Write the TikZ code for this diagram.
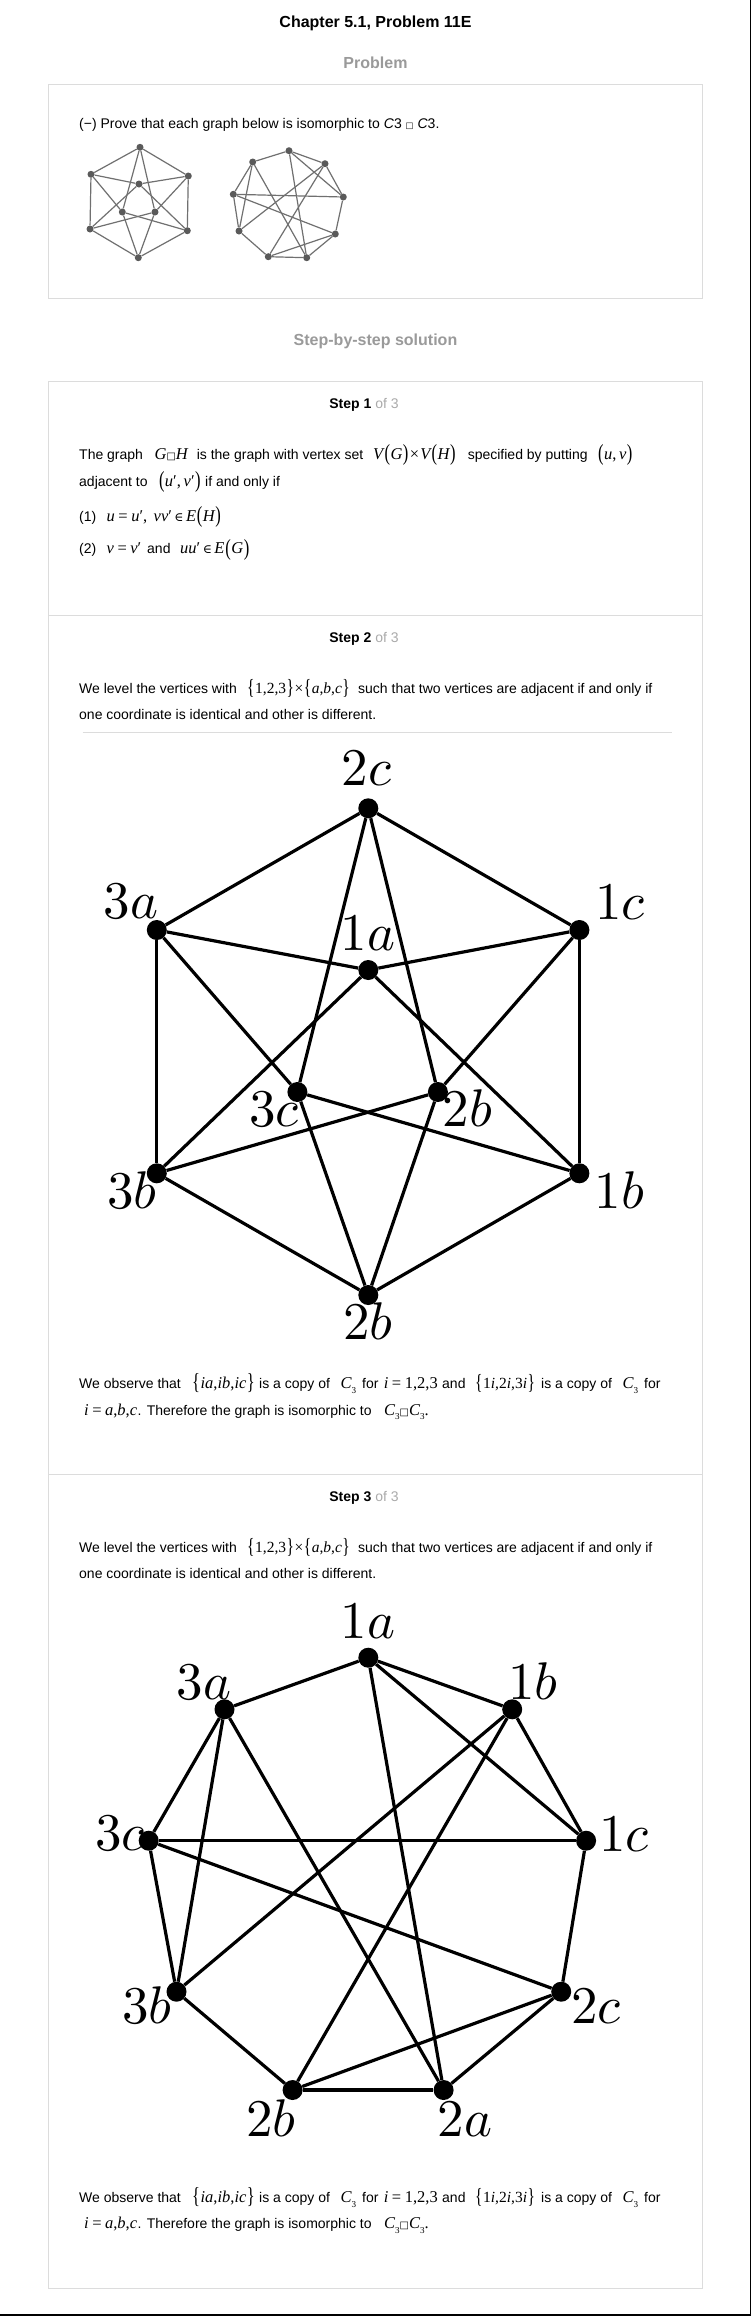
\documentclass[tikz,border=0pt]{standalone}
\usepackage{fontspec}
\setmainfont{Liberation Sans}
\newfontfamily\tms{Liberation Serif}
\newfontfamily\dvs{DejaVu Sans}
\newfontfamily\dvserif{DejaVu Serif}
\usepackage{graphicx}
\definecolor{boxgray}{HTML}{DCDCDC}
\definecolor{headgray}{HTML}{9A9A9A}
\definecolor{ofgray}{HTML}{AAAAAA}
\definecolor{sgnode}{HTML}{5A5A5A}
\definecolor{sgedge}{HTML}{707070}
\newcommand\mi[1]{{\tms\itshape #1}}
\newcommand\mr[1]{{\tms #1}}
\newcommand\eq{\hspace{3.5pt}\mr{=}\hspace{3.5pt}}
\newcommand\inop{\hspace{2.5pt}{\dvserif\scalebox{0.75}{∈}}\hspace{2.5pt}}
\newcommand\LP{\kern0.8pt\raisebox{-0.1em}{\scalebox{1}[1.4]{\tms(}}\kern0.5pt}
\newcommand\RP{\kern0.5pt\raisebox{-0.1em}{\scalebox{1}[1.4]{\tms)}}\kern0.5pt}
\newcommand\LB{\raisebox{-0.1em}{\scalebox{1}[1.4]{\tms\{}}\kern0.5pt}
\newcommand\RB{\kern0.5pt\raisebox{-0.1em}{\scalebox{1}[1.4]{\tms\}}}}
\newcommand\sq{{\dvs\scalebox{0.6}{□}}}
\newcommand\Cthree{\mi{C}\raisebox{-0.3em}{\scalebox{0.55}{\mr{3}}}}
\newcommand\gl[1]{\scalebox{5.3}{$#1$}}
\tikzset{
  txt/.style={anchor=base west, inner sep=0pt, font=\fontsize{14}{17}\selectfont},
  mth/.style={anchor=base west, inner sep=0pt, font=\fontsize{16.5}{18}\selectfont},
  mthsm/.style={anchor=base west, inner sep=0pt, font=\fontsize{15.5}{17}\selectfont},
  head/.style={anchor=base, inner sep=0pt, font=\bfseries\fontsize{16}{19}\selectfont},
  stephead/.style={anchor=base, inner sep=0pt, font=\fontsize{14}{17}\selectfont},
  boxframe/.style={draw=boxgray, line width=1pt},
  vtx/.style={circle, fill=black, inner sep=0pt, minimum size=20pt},
  gedge/.style={line width=3.2pt},
  lbl/.style={anchor=base, inner sep=0pt, font=\fontsize{10}{12}\selectfont},
  svtx/.style={circle, fill=sgnode, inner sep=0pt, minimum size=7pt},
  sedge/.style={line width=1.2pt, draw=sgedge},
}
\begin{document}
\begin{tikzpicture}[x=1pt,y=-1pt]
\useasboundingbox (0,0) rectangle (752,2316);
\fill[white] (0,0) rectangle (752,2316);
% page border lines
\draw[line width=1.6pt] (750.6,0) -- (750.6,2315.2) -- (0,2315.2);

% headings
\node[head] (title) at (375.5,27.5) {Chapter 5.1, Problem 11E};
\node[head, text=headgray] (probhead) at (375.5,68.7) {Problem};
\node[head, text=headgray] (solhead) at (375.5,345.7) {Step-by-step solution};

% problem box
\draw[boxframe] (48.4,84.3) rectangle (702.4,298.3);
\node[txt] (prove) at (79,128.5) {(−) Prove that each graph below is isomorphic to \textit{C}3 \sq\ \textit{C}3.};

% small graph left
\node[svtx] (sa2c) at (140,147.3) {};
\node[svtx] (sa3a) at (91,174.3) {};
\node[svtx] (sa1c) at (188.3,176) {};
\node[svtx] (sa1a) at (139,184) {};
\node[svtx] (sa3c) at (122.3,212) {};
\node[svtx] (sa2bi) at (155,212) {};
\node[svtx] (sa3b) at (90,229) {};
\node[svtx] (sa1b) at (187.3,230.7) {};
\node[svtx] (sa2bb) at (138.3,257.7) {};
\foreach \u/\v in {2c/3a,2c/1c,2c/3c,2c/2bi,3a/1a,1c/1a,3a/3b,1c/1b,3a/3c,1c/2bi,1a/3b,1a/1b,3c/1b,3c/2bb,2bi/3b,2bi/2bb,3b/2bb,1b/2bb}
  \draw[sedge] (sa\u) -- (sa\v);

% small graph right
\node[svtx] (sb1a) at (289,150.7) {};
\node[svtx] (sb3a) at (252.7,162) {};
\node[svtx] (sb1b) at (325,163.7) {};
\node[svtx] (sb3c) at (233.3,194.3) {};
\node[svtx] (sb1c) at (343.3,197) {};
\node[svtx] (sb3b) at (239,231) {};
\node[svtx] (sb2c) at (335.3,234) {};
\node[svtx] (sb2b) at (268.3,256.7) {};
\node[svtx] (sb2a) at (306.7,257.7) {};
\foreach \u/\v in {1a/3a,1a/1b,1a/1c,1a/2a,3a/3c,3a/3b,3a/2a,1b/1c,1b/3b,1b/2b,3c/1c,3c/3b,3c/2c,1c/2c,2c/2b,2c/2a,2b/3b,2b/2a}
  \draw[sedge] (sb\u) -- (sb\v);

% solution box
\draw[boxframe] (48.4,381) rectangle (702.4,2288.3);
\draw[boxframe] (48.4,615) -- (702.4,615);
\draw[boxframe] (48.4,1474) -- (702.4,1474);

% step 1
\node[stephead] (st1) at (364,408.3) {\textbf{Step 1} \textcolor{ofgray}{of 3}};
\node[txt] (s1a) at (79,459) {The graph};
\node[mth] (s1b) at (154.4,459) {\mi{G}\sq\mi{H}};
\node[txt] (s1c) at (196.6,459) {is the graph with vertex set};
\node[mth] (s1d) at (373,459) {\mi{V}\kern0.5pt\LP\mi{G}\RP\kern1pt\mr{×}\kern1pt\mi{V}\kern0.5pt\LP\mi{H}\RP};
\node[txt] (s1e) at (467.6,459) {specified by putting};
\node[mth] (s1f) at (597,459) {\LP\mi{u}\mr{,}\,\mi{v}\RP};
\node[txt] (s1g) at (79,486) {adjacent to};
\node[mth] (s1h) at (158,486) {\LP\mi{u}\mr{′,}\,\mi{v}\mr{′}\RP};
\node[txt] (s1i) at (205,486) {if and only if};
\node[txt] (s1j) at (79,521) {(1)};
\node[mth] (s1k) at (106.5,521) {\mi{u}\eq\mi{u}\mr{′,}};
\node[mth] (s1l) at (153.5,521) {\mi{vv}\mr{′}\inop\mi{E}\LP\mi{H}\RP};
\node[txt] (s1m) at (79,553.5) {(2)};
\node[mth] (s1n) at (106.5,553.5) {\mi{v}\eq\mi{v}\mr{′}};
\node[txt] (s1o) at (147,553.5) {and};
\node[mth] (s1p) at (180,553.5) {\mi{uu}\mr{′}\inop\mi{E}\LP\mi{G}\RP};

% step 2
\node[stephead] (st2) at (364,642.3) {\textbf{Step 2} \textcolor{ofgray}{of 3}};
\node[txt] (s2a) at (79,693.3) {We level the vertices with};
\node[mthsm] (s2b) at (247,693.3) {\LB\mr{1,2,3}\RB\kern0.5pt\mr{×}\kern0.5pt\LB\mi{a}\mr{,}\mi{b}\mr{,}\mi{c}\RB};
\node[txt] (s2c) at (358,693.3) {such that two vertices are adjacent if and only if};
\node[txt] (s2d) at (79,719.3) {one coordinate is identical and other is different.};
\draw[draw=boxgray, line width=0.8pt] (82.5,732.3) -- (671.5,732.3);

\node[vtx] (A2c) at (368.3,808.3) {};
\node[vtx] (A3a) at (156.8,930) {};
\node[vtx] (A1c) at (579.4,930) {};
\node[vtx] (A1a) at (368.3,970) {};
\node[vtx] (A3c) at (297.4,1092) {};
\node[vtx] (A2bi) at (437.9,1092) {};
\node[vtx] (A3b) at (156.8,1173.3) {};
\node[vtx] (A1b) at (579.4,1173.3) {};
\node[vtx] (A2bb) at (368.3,1295) {};
\foreach \u/\v in {2c/3a,2c/1c,2c/3c,2c/2bi,3a/1a,1c/1a,3a/3b,1c/1b,3a/3c,1c/2bi,1a/3b,1a/1b,3c/1b,3c/2bb,2bi/3b,2bi/2bb,3b/2bb,1b/2bb}
  \draw[gedge] (A\u) -- (A\v);
\node[lbl] (LA2c) at (366.7,785) {\gl{2c}};
\node[lbl] (LA3a) at (131,918.3) {\gl{3a}};
\node[lbl] (LA1c) at (620,919.3) {\gl{1c}};
\node[lbl] (LA1a) at (368,950.7) {\gl{1a}};
\node[lbl] (LA3c) at (274,1126.7) {\gl{3c}};
\node[lbl] (LA2bi) at (467.6,1126.7) {\gl{2b}};
\node[lbl] (LA3b) at (132,1208.3) {\gl{3b}};
\node[lbl] (LA1b) at (619.5,1208.3) {\gl{1b}};
\node[lbl] (LA2bb) at (368,1339.3) {\gl{2b}};

\node[txt] (o2a) at (79,1388.3) {We observe that};
\node[mth] (o2b) at (192,1388.3) {\LB\mi{ia}\mr{,}\mi{ib}\mr{,}\mi{ic}\RB};
\node[txt] (o2c) at (259,1388.3) {is a copy of};
\node[mth] (o2d) at (340.5,1388.3) {\Cthree};
\node[txt] (o2e) at (362,1388.3) {for};
\node[mth] (o2f) at (383.7,1388.3) {\mi{i}\eq\mr{1,2,3}};
\node[txt] (o2g) at (442,1388.3) {and};
\node[mthsm] (o2h) at (475,1388.3) {\LB\mr{1}\mi{i}\mr{,}\mr{2}\mi{i}\mr{,}\mr{3}\mi{i}\RB};
\node[txt] (o2i) at (541,1388.3) {is a copy of};
\node[mth] (o2j) at (622.5,1388.3) {\Cthree};
\node[txt] (o2k) at (644,1388.3) {for};
\node[mth] (o2l) at (84,1415) {\mi{i}\eq\mi{a}\mr{,}\mi{b}\mr{,}\mi{c}};
\node[txt] (o2m) at (137.5,1415) {. Therefore the graph is isomorphic to};
\node[mth] (o2n) at (384,1415) {\Cthree\sq\Cthree\mr{.}};

% step 3
\node[stephead] (st3) at (364,1501) {\textbf{Step 3} \textcolor{ofgray}{of 3}};
\node[txt] (s3a) at (79,1552.3) {We level the vertices with};
\node[mthsm] (s3b) at (247,1552.3) {\LB\mr{1,2,3}\RB\kern0.5pt\mr{×}\kern0.5pt\LB\mi{a}\mr{,}\mi{b}\mr{,}\mi{c}\RB};
\node[txt] (s3c) at (358,1552.3) {such that two vertices are adjacent if and only if};
\node[txt] (s3d) at (79,1578.3) {one coordinate is identical and other is different.};

\node[vtx] (B1a) at (368.3,1657.7) {};
\node[vtx] (B3a) at (224.5,1709.3) {};
\node[vtx] (B1b) at (512.2,1709.3) {};
\node[vtx] (B3c) at (148.7,1840.7) {};
\node[vtx] (B1c) at (586.1,1840.7) {};
\node[vtx] (B3b) at (176.5,1991.7) {};
\node[vtx] (B2c) at (561.2,1991.7) {};
\node[vtx] (B2b) at (292.6,2090) {};
\node[vtx] (B2a) at (443.6,2090) {};
\foreach \u/\v in {1a/3a,1a/1b,1a/1c,1a/2a,3a/3c,3a/3b,3a/2a,1b/1c,1b/3b,1b/2b,3c/1c,3c/3b,3c/2c,1c/2c,2c/2b,2c/2a,2b/3b,2b/2a}
  \draw[gedge] (B\u) -- (B\v);
\node[lbl] (LB1a) at (368,1638.3) {\gl{1a}};
\node[lbl] (LB3a) at (204,1699.3) {\gl{3a}};
\node[lbl] (LB1b) at (533,1699.3) {\gl{1b}};
\node[lbl] (LB3c) at (120,1850.7) {\gl{3c}};
\node[lbl] (LB1c) at (624,1851.7) {\gl{1c}};
\node[lbl] (LB3b) at (147,2023.3) {\gl{3b}};
\node[lbl] (LB2c) at (596,2023.3) {\gl{2c}};
\node[lbl] (LB2b) at (271,2136) {\gl{2b}};
\node[lbl] (LB2a) at (464.8,2136) {\gl{2a}};

\node[txt] (o3a) at (79,2202.3) {We observe that};
\node[mth] (o3b) at (192,2202.3) {\LB\mi{ia}\mr{,}\mi{ib}\mr{,}\mi{ic}\RB};
\node[txt] (o3c) at (259,2202.3) {is a copy of};
\node[mth] (o3d) at (340.5,2202.3) {\Cthree};
\node[txt] (o3e) at (362,2202.3) {for};
\node[mth] (o3f) at (383.7,2202.3) {\mi{i}\eq\mr{1,2,3}};
\node[txt] (o3g) at (442,2202.3) {and};
\node[mthsm] (o3h) at (475,2202.3) {\LB\mr{1}\mi{i}\mr{,}\mr{2}\mi{i}\mr{,}\mr{3}\mi{i}\RB};
\node[txt] (o3i) at (541,2202.3) {is a copy of};
\node[mth] (o3j) at (622.5,2202.3) {\Cthree};
\node[txt] (o3k) at (644,2202.3) {for};
\node[mth] (o3l) at (84,2228.3) {\mi{i}\eq\mi{a}\mr{,}\mi{b}\mr{,}\mi{c}};
\node[txt] (o3m) at (137.5,2228.3) {. Therefore the graph is isomorphic to};
\node[mth] (o3n) at (384,2228.3) {\Cthree\sq\Cthree\mr{.}};
\end{tikzpicture}
\end{document}
